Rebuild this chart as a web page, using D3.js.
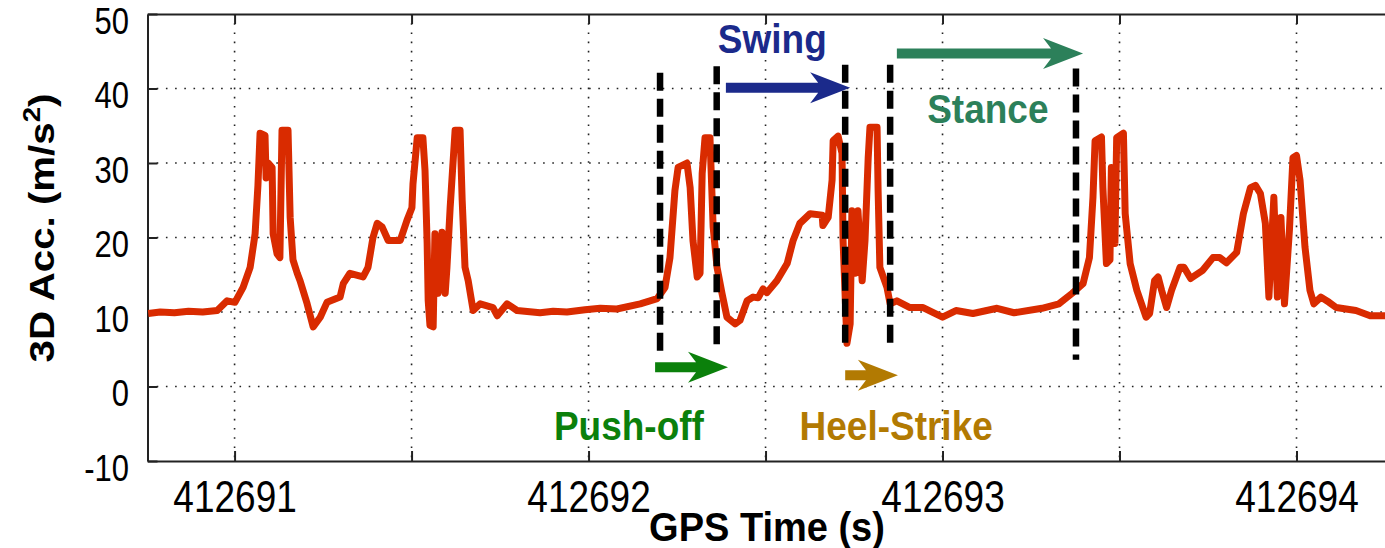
<!DOCTYPE html>
<html>
<head>
<meta charset="utf-8">
<script src="https://cdn.jsdelivr.net/npm/d3@7/dist/d3.min.js"></script>
<style>
body { margin: 0; background: #fff; }
text { font-family: "Liberation Sans", Arial, sans-serif; }
</style>
</head>
<body>
<div id="chart"></div>
<script>
// GPS time (s) of each sample
var times = [
  412690.756, 412690.790, 412690.830, 412690.870, 412690.910, 412690.951, 412690.979,
  412691.001, 412691.024, 412691.044, 412691.058, 412691.066, 412691.072, 412691.086,
  412691.089, 412691.095, 412691.106, 412691.109, 412691.120, 412691.128, 412691.134,
  412691.151, 412691.157, 412691.165, 412691.177, 412691.185, 412691.205, 412691.222,
  412691.242, 412691.261, 412691.298, 412691.307, 412691.326, 412691.363, 412691.377,
  412691.391, 412691.403, 412691.417, 412691.434, 412691.468, 412691.487, 412691.501,
  412691.504, 412691.516, 412691.532, 412691.538, 412691.544, 412691.547, 412691.552,
  412691.561, 412691.566, 412691.575, 412691.586, 412691.595, 412691.600, 412691.609,
  412691.623, 412691.637, 412691.643, 412691.651, 412691.660, 412691.674, 412691.694,
  412691.730, 412691.742, 412691.770, 412691.798, 412691.863, 412691.900, 412691.939,
  412691.990, 412692.033, 412692.080, 412692.146, 412692.194, 412692.216, 412692.230,
  412692.244, 412692.253, 412692.278, 412692.287, 412692.295, 412692.307, 412692.315,
  412692.321, 412692.329, 412692.343, 412692.352, 412692.363, 412692.377, 412692.391,
  412692.414, 412692.428, 412692.448, 412692.465, 412692.479, 412692.493, 412692.504,
  412692.532, 412692.561, 412692.578, 412692.597, 412692.626, 412692.660, 412692.662,
  412692.677, 412692.688, 412692.691, 412692.705, 412692.716, 412692.719, 412692.730,
  412692.739, 412692.744, 412692.753, 412692.761, 412692.773, 412692.781, 412692.790,
  412692.795, 412692.815, 412692.818, 412692.823, 412692.843, 412692.852, 412692.871,
  412692.908, 412692.945, 412693.000, 412693.038, 412693.086, 412693.154, 412693.202,
  412693.281, 412693.329, 412693.366, 412693.397, 412693.415, 412693.425, 412693.431,
  412693.449, 412693.453, 412693.463, 412693.473, 412693.477, 412693.487, 412693.492,
  412693.511, 412693.516, 412693.530, 412693.549, 412693.575, 412693.585, 412693.599,
  412693.609, 412693.619, 412693.633, 412693.647, 412693.671, 412693.682, 412693.701,
  412693.735, 412693.764, 412693.783, 412693.802, 412693.831, 412693.850, 412693.870,
  412693.884, 412693.898, 412693.912, 412693.922, 412693.936, 412693.946, 412693.956,
  412693.966, 412693.980, 412693.990, 412694.000, 412694.010, 412694.024, 412694.038,
  412694.049, 412694.069, 412694.092, 412694.112, 412694.168, 412694.208, 412694.262
];
// 3D acceleration (m/s^2) at the same samples
var accel = [
  9.8, 10.0, 9.9, 10.1, 10.0, 10.2, 11.5,
  11.3, 13.3, 16.0, 20.5, 27.0, 34.0, 33.7,
  28.0, 30.0, 29.4, 20.5, 17.8, 17.3, 34.4,
  34.4, 22.7, 17.0, 15.2, 14.2, 11.1, 8.0,
  9.3, 11.3, 12.0, 13.8, 15.2, 14.7, 16.0,
  20.0, 21.9, 21.4, 19.6, 19.6, 22.3, 24.0,
  27.2, 33.4, 33.4, 29.0, 19.2, 11.5, 8.2,
  8.0, 20.5, 12.5, 20.7, 12.5, 16.0, 24.0,
  34.4, 34.4, 25.0, 16.0, 14.2, 10.2, 11.1,
  10.6, 9.5, 11.1, 10.2, 9.9, 10.1, 10.0,
  10.3, 10.5, 10.4, 11.1, 11.8, 13.3, 17.3,
  26.3, 29.4, 30.0, 26.7, 19.6, 14.7, 15.2,
  28.6, 33.4, 33.4, 21.4, 16.0, 12.5, 9.3,
  8.4, 8.9, 11.5, 12.0, 11.9, 13.1, 12.6,
  14.2, 16.5, 19.6, 21.9, 23.2, 23.0, 21.6,
  22.7, 27.7, 33.0, 33.6, 31.3, 19.6, 5.8,
  8.4, 23.6, 15.2, 23.6, 14.2, 19.6, 30.7,
  34.8, 34.8, 26.3, 16.0, 13.3, 11.1, 11.5,
  10.6, 10.6, 9.3, 10.2, 9.8, 10.5, 9.9,
  10.5, 11.1, 12.5, 13.8, 17.3, 25.4, 33.0,
  33.5, 26.7, 16.5, 17.0, 29.4, 19.2, 33.4,
  34.0, 23.2, 16.5, 12.9, 9.3, 9.8, 14.2,
  14.7, 12.9, 10.6, 12.9, 16.0, 16.0, 14.5,
  15.6, 17.3, 17.3, 16.6, 18.0, 23.2, 26.7,
  27.0, 25.9, 21.9, 12.0, 25.4, 12.0, 22.7,
  11.1, 21.0, 30.7, 31.0, 27.7, 18.7, 12.9,
  11.1, 12.0, 11.3, 10.6, 10.2, 9.5, 9.5
];

var yTicks = [-10, 0, 10, 20, 30, 40, 50];
var xTicks = [412691, 412692, 412693, 412694];
var xMinorTicks = [412691, 412691.5, 412692, 412692.5, 412693, 412693.5, 412694];

// dashed phase markers
var markTimes = [412692.202, 412692.362, 412692.725, 412692.852, 412693.377];
var markTop = [42.1, 43.0, 43.2, 43.2, 42.7];
var markBottom = [4.2, 5.0, 5.5, 5.1, 3.6];

// phase arrows and their labels
var phaseNames = ["Swing", "Stance", "Push-off", "Heel-Strike"];
var phaseColors = ["#1b2a8b", "#2c805a", "#0b800b", "#b27a02"];
var arrowFrom = [412692.388, 412692.871, 412692.188, 412692.725];
var arrowTo = [412692.739, 412693.397, 412692.394, 412692.874];
var arrowLevel = [40.1, 44.7, 2.6, 1.5];
var labelTime = [412692.519, 412693.128, 412692.114, 412692.869];
var labelLevel = [44.7, 35.4, -7.2, -7.2];

var margin = {top: 14, left: 147.5};
var width = 1241.5;   // runs past the right edge, like the original crop
var height = 447;

var svg = d3.select('#chart')
    .append('svg')
    .attr('width', 1385)
    .attr('height', 548);

var chart = svg.append('g')
    .attr('transform', 'translate(' + margin.left + ',' + margin.top + ')');

/*----- SCALES ----*/
var xScale = d3.scaleLinear()
    .domain([412690.754, 412694.2613])
    .range([0, width]);
var yScale = d3.scaleLinear()
    .domain([-10, 50])
    .range([height, 0]);

/*----- GRID -----*/
chart.selectAll('.vgrid')
    .data(xMinorTicks)
    .enter().append('line')
    .attr('x1', function(d) { return xScale(d); })
    .attr('x2', function(d) { return xScale(d); })
    .attr('y1', 0)
    .attr('y2', height)
    .attr('stroke', '#222')
    .attr('stroke-width', 1.6)
    .attr('stroke-dasharray', '1.6,7.6');
chart.selectAll('.hgrid')
    .data(yTicks.slice(1, -1))
    .enter().append('line')
    .attr('x1', 0)
    .attr('x2', width)
    .attr('y1', function(d) { return yScale(d); })
    .attr('y2', function(d) { return yScale(d); })
    .attr('stroke', '#222')
    .attr('stroke-width', 1.6)
    .attr('stroke-dasharray', '1.6,7.6');

/*----- AXES -----*/
var xAxis = d3.axisBottom(xScale)
    .tickValues(xMinorTicks)
    .tickSizeInner(-10)
    .tickSizeOuter(0)
    .tickFormat(function(d) { return xTicks.indexOf(d) >= 0 ? String(d) : ''; });
var xTop = d3.axisTop(xScale)
    .tickValues(xMinorTicks)
    .tickSizeInner(-10)
    .tickSizeOuter(0)
    .tickFormat('');
var yAxis = d3.axisLeft(yScale)
    .tickValues(yTicks)
    .tickSizeInner(-10)
    .tickSizeOuter(0)
    .tickFormat(function(d) { return String(d); });

var gx = chart.append('g')
    .attr('transform', 'translate(0,' + height + ')')
    .call(xAxis);
var gt = chart.append('g').call(xTop);
var gy = chart.append('g').call(yAxis);

[gx, gt, gy].forEach(function(g) {
    g.select('.domain').attr('stroke', '#222').attr('stroke-width', 2);
    g.selectAll('.tick line').attr('stroke', '#222').attr('stroke-width', 2);
});

// the figure text is a little taller than it is wide
gx.selectAll('.tick text')
    .attr('y', 0).attr('dy', 0)
    .attr('transform', 'translate(0,51) scale(1,1.18)')
    .attr('font-size', 37)
    .attr('fill', '#000');
gy.selectAll('.tick text')
    .attr('x', 0).attr('dy', '0.36em')
    .attr('transform', 'translate(-18.5,6) scale(1,1.2)')
    .attr('font-size', 31)
    .attr('fill', '#000');

/*----- DRAWING -----*/
chart.append('clipPath').attr('id', 'plotclip')
    .append('rect').attr('width', width).attr('height', height);

var line = d3.line()
    .x(function(d) { return xScale(d[0]); })
    .y(function(d) { return yScale(d[1]); });

chart.append('path')
    .datum(d3.zip(times, accel))
    .attr('clip-path', 'url(#plotclip)')
    .attr('d', line)
    .attr('fill', 'none')
    .attr('stroke', '#d92b00')
    .attr('stroke-width', 7)
    .attr('stroke-linejoin', 'round');

chart.selectAll('.mark')
    .data(markTimes)
    .enter().append('line')
    .attr('x1', function(d) { return xScale(d); })
    .attr('x2', function(d) { return xScale(d); })
    .attr('y1', function(d, i) { return yScale(markTop[i]); })
    .attr('y2', function(d, i) { return yScale(markBottom[i]); })
    .attr('stroke', '#000')
    .attr('stroke-width', 6.5)
    .attr('stroke-dasharray', '18,8');

// arrow: shaft plus a head with a slanted back
function arrowPath(i) {
    var x0 = xScale(arrowFrom[i]), x1 = xScale(arrowTo[i]), yy = yScale(arrowLevel[i]);
    var hx = x1 - 40, hw = 15.5, sw = 5;
    return 'M' + x0 + ',' + (yy - sw) +
        'L' + (hx + 8) + ',' + (yy - sw) +
        'L' + hx + ',' + (yy - hw) +
        'L' + x1 + ',' + yy +
        'L' + hx + ',' + (yy + hw) +
        'L' + (hx + 8) + ',' + (yy + sw) +
        'L' + x0 + ',' + (yy + sw) + 'Z';
}

chart.selectAll('.arrow')
    .data(phaseNames)
    .enter().append('path')
    .attr('d', function(d, i) { return arrowPath(i); })
    .attr('fill', function(d, i) { return phaseColors[i]; });

chart.selectAll('.phase')
    .data(phaseNames)
    .enter().append('text')
    .attr('transform', function(d, i) {
        return 'translate(' + xScale(labelTime[i]) + ',' + yScale(labelLevel[i]) + ') scale(1,1.08)';
    })
    .attr('text-anchor', 'middle')
    .attr('font-size', 37)
    .attr('font-weight', 'bold')
    .attr('fill', function(d, i) { return phaseColors[i]; })
    .text(function(d) { return d; });

/*----- TITLES -----*/
svg.append('text')
    .attr('transform', 'translate(767,541) scale(1,1.05)')
    .attr('text-anchor', 'middle')
    .attr('font-size', 38)
    .attr('font-weight', 'bold')
    .text('GPS Time (s)');

var yt = svg.append('text')
    .attr('transform', 'translate(54,228) rotate(-90) scale(1.15,1)')
    .attr('text-anchor', 'middle')
    .attr('font-size', 35)
    .attr('font-weight', 'bold');
yt.append('tspan').text('3D Acc. (m/s');
yt.append('tspan').attr('font-size', 24).attr('dy', -14).text('2');
yt.append('tspan').attr('dy', 14).text(')');
</script>
</body>
</html>
